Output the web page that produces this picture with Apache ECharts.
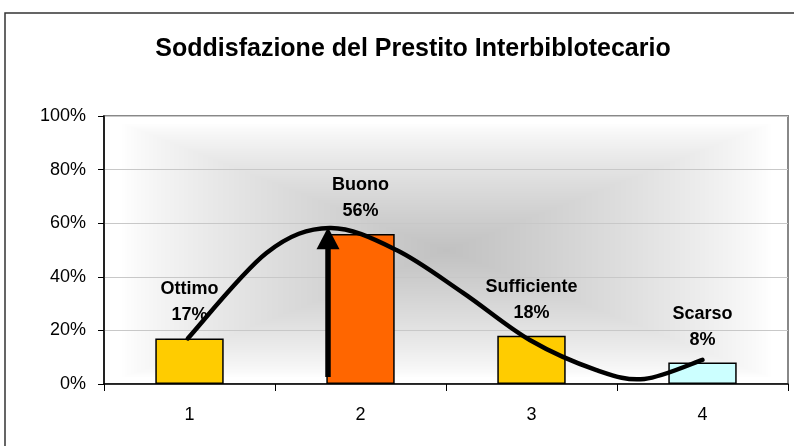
<!DOCTYPE html>
<html>
<head>
<meta charset="utf-8">
<script src="https://cdn.jsdelivr.net/npm/echarts@6/dist/echarts.min.js"></script>
<style>
  html, body { margin: 0; padding: 0; background: #fff; }
  #chart { width: 794px; height: 446px; }
</style>
</head>
<body>
<div id="chart"></div>
<script>
// dati
const categories = ['1', '2', '3', '4']
const giudizi = ['Ottimo', 'Buono', 'Sufficiente', 'Scarso']
const percentuali = [17, 56, 18, 8]
const yTicks = [0, 20, 40, 60, 80, 100]

// curva disegnata a mano sopra il grafico (posizione categoria, valore %)
const curvaX = [0.99, 1.45, 1.82, 2.21, 2.6, 2.99, 3.38, 3.66, 4.0]
const curvaY = [17, 48.9, 58.2, 50, 34, 16.4, 5.2, 1.9, 9]

// freccia verticale sulla categoria 2
const frecciaX = 1.81
const frecciaDa = 2.6
const frecciaA = 58.5

const coloriBarre = ['#FFCC00', '#FF6600', '#FFCC00', '#CCFFFF']
const font = 'Liberation Sans, Arial, sans-serif'

const chart = echarts.init(document.getElementById('chart'))

// sfondo sfumato rettangolare dal centro (come Excel)
const makeShade = (w, h) => {
  const c = document.createElement('canvas')
  c.width = w
  c.height = h
  const ctx = c.getContext('2d')
  const img = ctx.createImageData(w, h)
  for (let y = 0; y < h; y++) {
    for (let x = 0; x < w; x++) {
      const t = Math.max(Math.abs(x - w / 2) / (w / 2), Math.abs(y - h / 2) / (h / 2))
      const k = Math.pow(Math.max(0, (0.95 - t) / 0.95), 0.8)
      const g = Math.round(255 - 62 * k)
      const i = (y * w + x) * 4
      img.data[i] = g
      img.data[i + 1] = g
      img.data[i + 2] = g
      img.data[i + 3] = 255
    }
  }
  ctx.putImageData(img, 0, 0)
  return c
}

// curva morbida (catmull-rom) passando per i punti letti
const renderCurva = (params, api) => {
  const pts = curvaX.map((x, i) => api.coord([x, curvaY[i]]))
  let d = 'M' + pts[0][0] + ' ' + pts[0][1]
  for (let i = 0; i < pts.length - 1; i++) {
    const p0 = pts[Math.max(i - 1, 0)]
    const p1 = pts[i]
    const p2 = pts[i + 1]
    const p3 = pts[Math.min(i + 2, pts.length - 1)]
    const c1 = [p1[0] + (p2[0] - p0[0]) / 6, p1[1] + (p2[1] - p0[1]) / 6]
    const c2 = [p2[0] - (p3[0] - p1[0]) / 6, p2[1] - (p3[1] - p1[1]) / 6]
    d += ' C' + c1[0] + ' ' + c1[1] + ' ' + c2[0] + ' ' + c2[1] + ' ' + p2[0] + ' ' + p2[1]
  }
  return {
    type: 'path',
    shape: { pathData: d },
    style: { fill: 'none', stroke: '#000', lineWidth: 4.5, lineCap: 'round' }
  }
}

const renderFreccia = (params, api) => {
  const a = api.coord([frecciaX, frecciaDa])
  const b = api.coord([frecciaX, frecciaA])
  return {
    type: 'group',
    children: [
      {
        type: 'line',
        shape: { x1: a[0], y1: a[1], x2: b[0], y2: b[1] + 18 },
        style: { stroke: '#000', lineWidth: 5.5 }
      },
      {
        type: 'polygon',
        shape: { points: [[b[0] - 11.5, b[1] + 22], [b[0], b[1]], [b[0] + 11.5, b[1] + 22]] },
        style: { fill: '#000' }
      }
    ]
  }
}

chart.setOption({
  animation: false,
  backgroundColor: '#fff',
  title: {
    text: 'Soddisfazione del Prestito Interbiblotecario',
    left: 408,
    top: 32,
    textAlign: 'center',
    textStyle: { fontFamily: font, fontSize: 25, fontWeight: 'bold', color: '#000' }
  },
  grid: {
    left: 104,
    right: 6,
    top: 116,
    bottom: 62,
    show: true,
    backgroundColor: 'transparent',
    borderColor: '#888',
    borderWidth: 2
  },
  xAxis: [
    {
      type: 'category',
      data: categories,
      axisLine: { lineStyle: { color: '#000', width: 1.5 } },
      axisTick: { show: true, length: 7, lineStyle: { color: '#000', width: 1 } },
      axisLabel: { color: '#000', fontFamily: font, fontSize: 18, margin: 22 },
      splitLine: { show: false }
    },
    {
      type: 'value',
      min: 0.5,
      max: 4.5,
      show: false
    }
  ],
  yAxis: {
    type: 'value',
    min: yTicks[0],
    max: yTicks[yTicks.length - 1],
    interval: yTicks[1] - yTicks[0],
    axisLine: { show: true, lineStyle: { color: '#000', width: 1.5 } },
    axisTick: { show: true, length: 6, lineStyle: { color: '#000' } },
    axisLabel: {
      color: '#000', fontFamily: font, fontSize: 18, margin: 18,
      formatter: '{value}%'
    },
    splitLine: { show: true, lineStyle: { color: '#c8c8c8', width: 1 } }
  },
  series: [
    {
      type: 'bar',
      xAxisIndex: 0,
      barWidth: '40%',
      data: percentuali.map((v, i) => ({
        value: v,
        itemStyle: { color: coloriBarre[i], borderColor: '#000', borderWidth: 1.5 }
      })),
      label: {
        show: true,
        position: 'top',
        distance: 10,
        fontFamily: font,
        fontSize: 18,
        fontWeight: 'bold',
        color: '#000',
        lineHeight: 26,
        formatter: p => giudizi[p.dataIndex] + '\n' + p.value + '%'
      },
      z: 2
    },
    {
      type: 'custom',
      xAxisIndex: 1,
      renderItem: renderCurva,
      data: [[curvaX[0], curvaY[0]]],
      silent: true,
      z: 5
    },
    {
      type: 'custom',
      xAxisIndex: 1,
      renderItem: renderFreccia,
      data: [[frecciaX, frecciaA]],
      silent: true,
      z: 6
    }
  ]
})

const rect = chart.getModel().getComponent('grid').coordinateSystem.getRect()
chart.setOption({
  graphic: [
    {
      type: 'image',
      x: rect.x,
      y: rect.y,
      z: -10,
      silent: true,
      style: { image: makeShade(Math.round(rect.width), Math.round(rect.height)), width: rect.width, height: rect.height }
    },
    {
      type: 'rect',
      shape: { x: 5, y: 13, width: 820, height: 460 },
      style: { fill: 'none', stroke: '#333', lineWidth: 1.5 },
      silent: true,
      z: 10
    }
  ]
})
</script>
</body>
</html>
